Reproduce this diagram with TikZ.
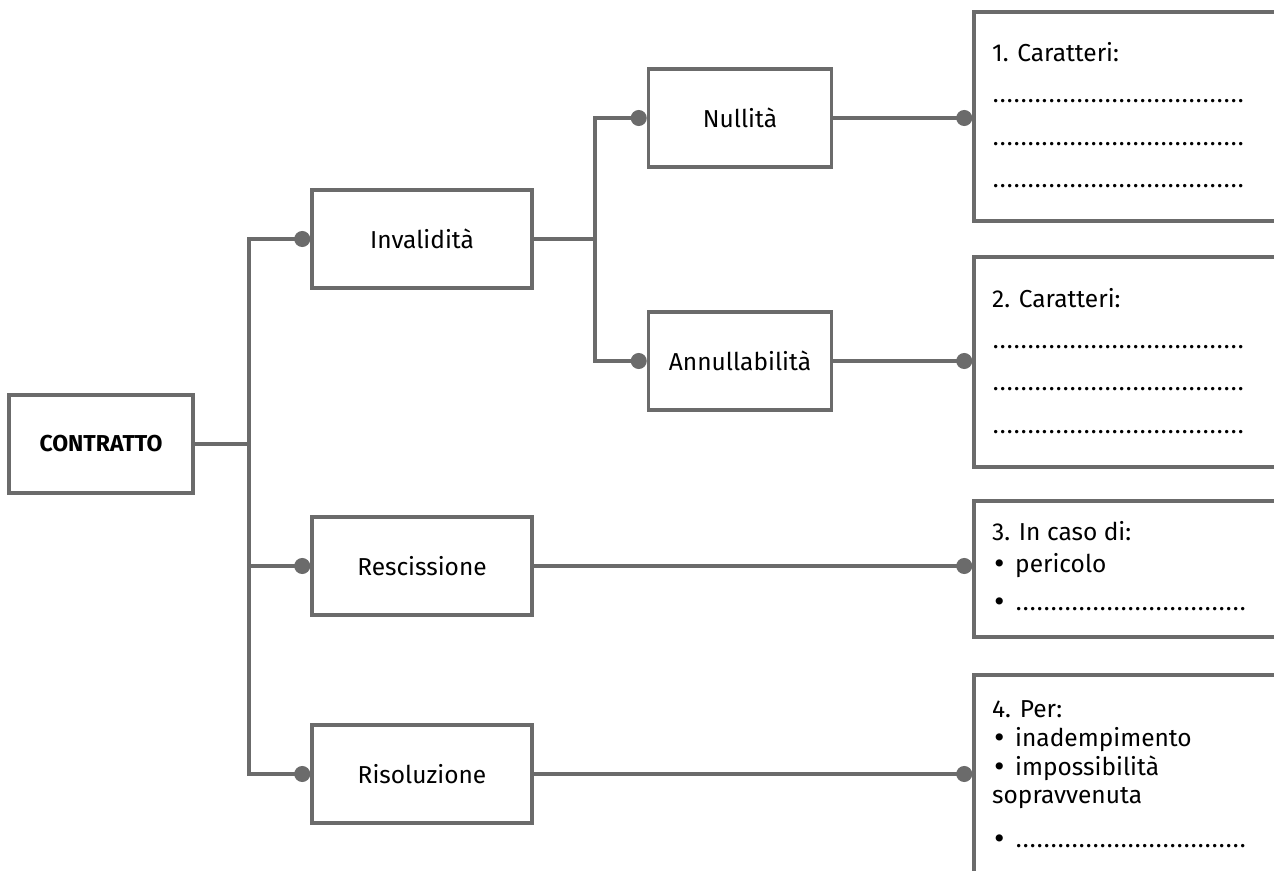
\documentclass[tikz,border=0pt]{standalone}
\usepackage{fontspec}
\setmainfont{Fira Sans}
\newfontfamily\symfont{DejaVu Sans}
\usetikzlibrary{arrows.meta,positioning}
\definecolor{linegray}{HTML}{6B6B6B}
\newcommand{\puntini}[1]{\hbox to #1{\leaders\hbox to 7pt{\hss.\hss}\hfill}}
\newcommand{\punto}{\makebox[23pt][l]{\symfont •}}

\begin{document}
\begin{tikzpicture}[x=1pt,y=-1pt,
	box/.style={draw=linegray,line width=3.5pt,minimum width=220pt,minimum height=98pt,inner sep=0pt,font=\fontsize{24.5}{29}\selectfont},
	smallbox/.style={box,minimum width=183pt},
	infobox/.style={draw=linegray,line width=3.5pt,minimum width=336pt,inner sep=0pt},
	txt/.style={anchor=base west,inner sep=0pt,font=\fontsize{24.5}{29}\selectfont},
	link/.style={draw=linegray,line width=3.5pt},
	dotend/.style={link,-{Circle[length=16pt,width=16pt]}}]
	\useasboundingbox (0,0) rectangle (1274,870);

	% boxes on the left
	\node[box,minimum width=184pt,font=\fontsize{23}{28}\selectfont\bfseries] (contratto) at (101, 444) {CONTRATTO};
	\node[box] (inv) at (422, 239) {Invalidità};
	\node[box] (resc) at (422, 566) {Rescissione};
	\node[box] (risol) at (422, 774) {Risoluzione};
	\node[smallbox] (null) at (740, 118) {Nullità};
	\node[smallbox] (annull) at (740, 361) {Annullabilità};

	% boxes on the right, cut by the page edge
	\node[infobox,minimum height=209pt] (car1) at (1142, 116.5) {};
	\node[infobox,minimum height=210pt] (car2) at (1142, 362) {};
	\node[infobox,minimum height=136pt] (car3) at (1142, 569) {};
	\node[infobox,minimum height=235pt] (car4) at (1142, 792.5) {};

	\coordinate (trunk) at (249, 444);
	\coordinate (fork) at (595, 239);

	\draw[dotend] (contratto.east) -- (trunk) |- (inv.west);
	\draw[dotend] (trunk) |- (resc.west);
	\draw[dotend] (trunk) |- (risol.west);
	\draw[dotend] (inv.east) -- (fork) |- (null.west);
	\draw[dotend] (fork) |- (annull.west);
	\draw[dotend] (null.east) -- (null.east -| car1.west);
	\draw[dotend] (annull.east) -- (annull.east -| car2.west);
	\draw[dotend] (resc.east) -- (resc.east -| car3.west);
	\draw[dotend] (risol.east) -- (risol.east -| car4.west);

	% texts in the right boxes
	\node[txt] (t1) at (992, 61) {1. Caratteri:};
	\foreach \y/\n in {102/a, 145/b, 187/c}
		\node[txt] (d1\n) at (992, \y) {\puntini{258pt}};
	\node[txt] (t2) at (992, 307) {2. Caratteri:};
	\foreach \y/\n in {348/a, 390/b, 433/c}
		\node[txt] (d2\n) at (992, \y) {\puntini{258pt}};
	\node[txt] (t3) at (992, 540) {3. In caso di:};
	\node[txt] (t3a) at (992, 572) {\punto pericolo};
	\node[txt] (t3b) at (992, 610) {\punto\puntini{232pt}};
	\node[txt] (t4) at (992, 717) {4. Per:};
	\node[txt] (t4a) at (992, 746) {\punto inadempimento};
	\node[txt] (t4b) at (992, 775) {\punto impossibilità};
	\node[txt] (t4c) at (992, 803) {sopravvenuta};
	\node[txt] (t4d) at (992, 847) {\punto\puntini{232pt}};
\end{tikzpicture}
\end{document}
